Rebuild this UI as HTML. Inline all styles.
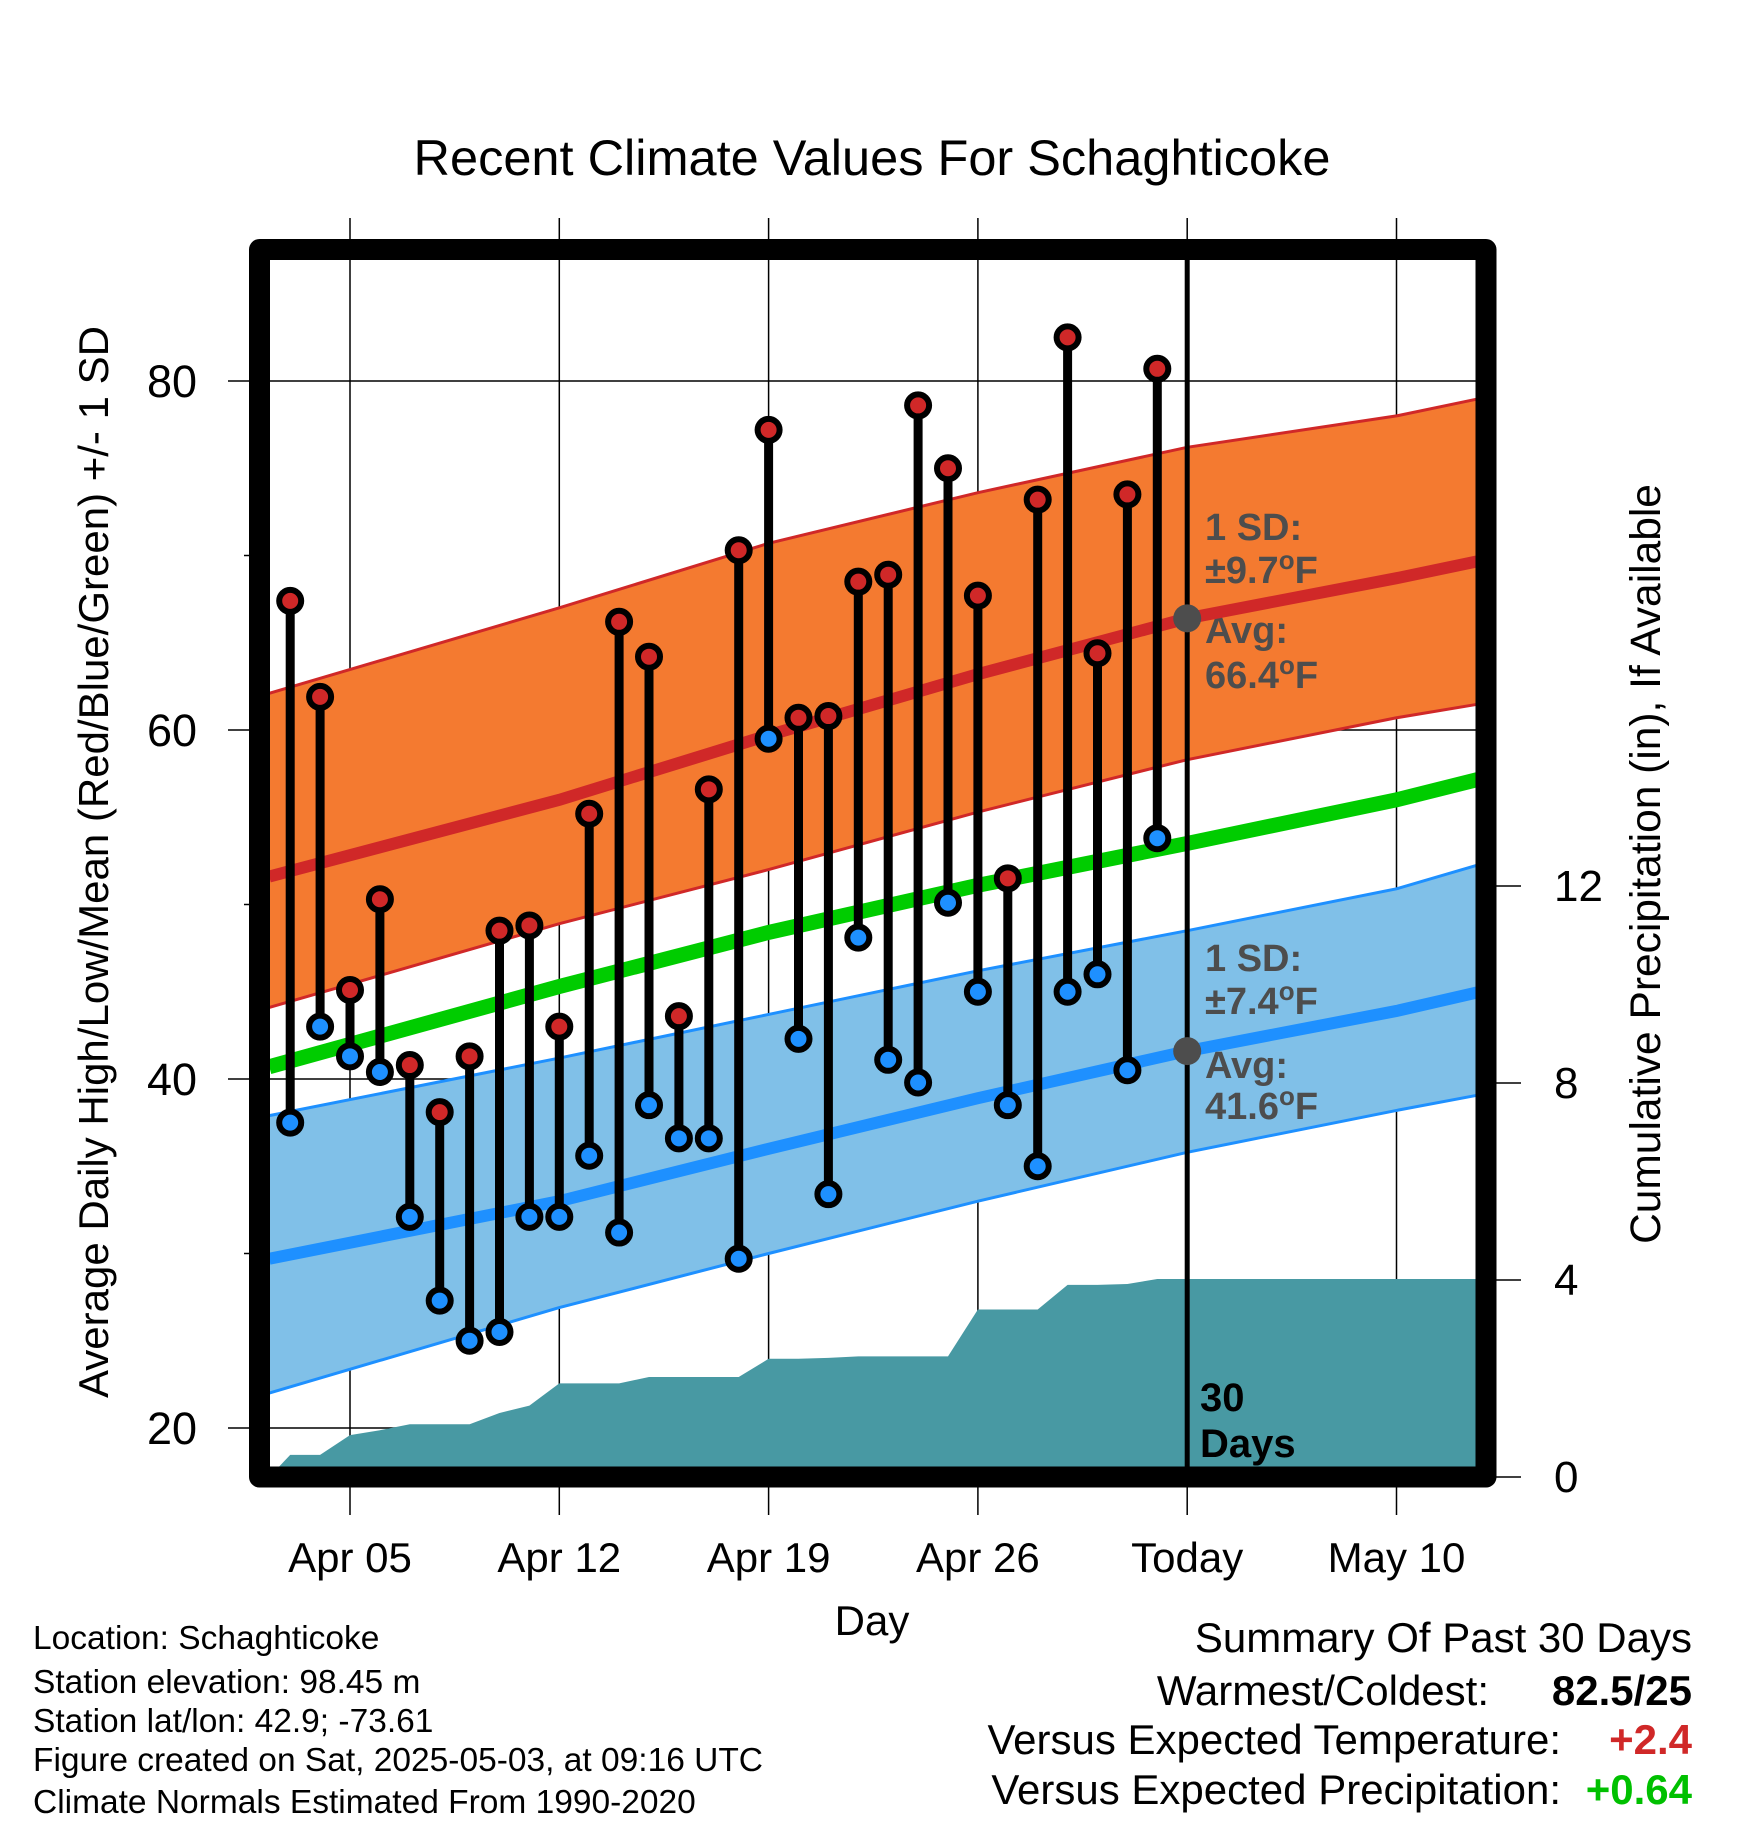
<!DOCTYPE html>
<html><head><meta charset="utf-8"><style>
html,body{margin:0;padding:0;background:#fff;}
svg{display:block;font-family:"Liberation Sans",sans-serif;}
</style></head><body>
<svg id="chart" width="1748" height="1828" viewBox="0 0 1748 1828" xmlns="http://www.w3.org/2000/svg">
<defs><clipPath id="plotclip"><rect x="260" y="250" width="1226" height="1227"/></clipPath></defs>
<rect width="1748" height="1828" fill="#fff"/>
<text x="872" y="175" font-size="50.5" text-anchor="middle">Recent Climate Values For Schaghticoke</text>
<g id="grid"></g>
<g id="plot" clip-path="url(#plotclip)"></g>
<g id="marks"></g>
<rect x="259.5" y="249.5" width="1226.5" height="1227.5" fill="none" stroke="#000" stroke-width="21" stroke-linejoin="round"/>
<g id="axes"></g>
<text transform="translate(108,862) rotate(-90)" font-size="42" text-anchor="middle">Average Daily High/Low/Mean (Red/Blue/Green) +/- 1 SD</text>
<text transform="translate(1660,864) rotate(-90)" font-size="42.5" text-anchor="middle">Cumulative Precipitation (in), If Available</text>
<text x="872" y="1635" font-size="42" text-anchor="middle">Day</text>
<g font-size="33.5">
<text x="33" y="1649">Location: Schaghticoke</text>
<text x="33" y="1693">Station elevation: 98.45 m</text>
<text x="33" y="1732">Station lat/lon: 42.9; -73.61</text>
<text x="33" y="1771">Figure created on Sat, 2025-05-03, at 09:16 UTC</text>
<text x="33" y="1813">Climate Normals Estimated From 1990-2020</text>
</g>
<g font-size="42">
<text x="1692" y="1652" text-anchor="end">Summary Of Past 30 Days</text>
<text x="1489" y="1705" text-anchor="end">Warmest/Coldest:</text>
<text x="1692" y="1705" text-anchor="end" font-weight="bold">82.5/25</text>
<text x="1561" y="1754" text-anchor="end">Versus Expected Temperature:</text>
<text x="1692" y="1754" text-anchor="end" font-weight="bold" fill="#d02828">+2.4</text>
<text x="1561" y="1804" text-anchor="end">Versus Expected Precipitation:</text>
<text x="1692" y="1804" text-anchor="end" font-weight="bold" fill="#00c000">+0.64</text>
</g>
</svg>
<script>
// ---- data ----
const highs = [67.4,61.9,45.1,50.3,40.8,38.1,41.3,48.5,48.8,43.0,55.2,66.2,64.2,43.6,56.6,70.3,77.2,60.7,60.8,68.5,68.9,78.6,75.0,67.7,51.5,73.2,82.5,64.4,73.5,80.7];
const lows  = [37.5,43.0,41.3,40.4,32.1,27.3,25.0,25.5,32.1,32.1,35.6,31.2,38.5,36.6,36.6,29.7,59.5,42.3,33.4,48.1,41.1,39.8,50.1,45.0,38.5,35.0,45.0,46.0,40.5,53.8];
const precip = [0.45,0.45,0.85,0.95,1.07,1.07,1.07,1.3,1.45,1.9,1.9,1.9,2.03,2.03,2.03,2.03,2.4,2.4,2.42,2.45,2.45,2.45,2.45,3.4,3.4,3.4,3.9,3.9,3.92,4.02];
const normDays = [-2.7,7,14,21,28,35,37.8];
const avgHigh = [51.6,56.0,59.7,63.2,66.4,68.7,69.7];
const highUpper = [62.1,67.0,70.7,73.6,76.2,78.0,79.0];
const highLower = [44.1,48.9,52.0,55.3,58.3,60.7,61.5];
const avgLow = [29.7,33.0,36.0,38.9,41.6,43.9,45.0];
const lowUpper = [37.9,41.2,43.7,46.2,48.5,50.9,52.3];
const lowLower = [22.0,26.9,30.0,33.0,35.8,38.2,39.1];
const avgMean = [40.7,45.3,48.4,51.1,53.5,56.0,57.2];
const xTickDays = [0,7,14,21,28,35];
const xTickLabels = ["Apr 05","Apr 12","Apr 19","Apr 26","Today","May 10"];
const yTicks = [20,40,60,80];
const yMinor = [30,50,70];
const y2Ticks = [0,4,8,12];
const firstDay = -2; // Apr 03 relative to Apr 05

// ---- scales ----
const xS = d => 350 + d*29.9;
const yS = v => 381 + (80-v)*17.45;
const pS = p => 1477 - p*49.25;
const NS='http://www.w3.org/2000/svg';
function mk(tag, parent, attrs){const e=document.createElementNS(NS,tag);for(const k in attrs)e.setAttribute(k,attrs[k]);parent.appendChild(e);return e;}
const grid=document.getElementById('grid'), plot=document.getElementById('plot'), marks=document.getElementById('marks'), axes=document.getElementById('axes');

// grid
yTicks.forEach(v=>{const l=mk('line',grid,{x1:228,x2:1486,y1:yS(v),y2:yS(v),stroke:'#000','stroke-width':1.5});

});
xTickDays.forEach((d,i)=>{const l=mk('line',grid,{x1:xS(d),x2:xS(d),y1:218,y2:1515,stroke:'#000','stroke-width':1.5});

});

// bands
function pts(arr){return normDays.map((d,i)=>xS(d)+','+yS(arr[i]));}
function band(up,lo,fill,edge,name){
 const p=mk('polygon',plot,{points:pts(up).concat(pts(lo).reverse()).join(' '),fill:fill});
 
 
 [up,lo].forEach(a=>{const e=mk('polyline',plot,{points:pts(a).join(' '),fill:'none',stroke:edge,'stroke-width':3});
 
 });
}
band(highUpper,highLower,'#f47a30','#d02828','high-sd-band');
band(lowUpper,lowLower,'#80c0e8','#1e90ff','low-sd-band');

// precip
let pp=[xS(-2.7)+','+pS(0)];
precip.forEach((p,i)=>pp.push(xS(firstDay+i)+','+pS(p)));
pp.push(xS(37.8)+','+pS(precip[precip.length-1]));
pp.push(xS(37.8)+','+pS(0));
const pa=mk('polygon',plot,{points:pp.join(' '),fill:'#4899a3'});



// annotations
const ann=[['1 SD:','',540],['\u00b19.7','F',583],['Avg:','',643],['66.4','F',688],['1 SD:','',971],['\u00b17.4','F',1014],['Avg:','',1078],['41.6','F',1119]];
ann.forEach(a=>{const t=mk('text',plot,{x:1205,y:a[2],'font-size':38,'font-weight':'bold',fill:'#4d4d4d'});


t.appendChild(document.createTextNode(a[0]));
if(a[1]){const s=mk('tspan',t,{dy:-14,'font-size':26});s.textContent='o';const f=mk('tspan',t,{dy:14});f.textContent='F';}
});

// normal lines
[[avgHigh,'#d02828',12,'avg-high-line'],[avgLow,'#1e90ff',12,'avg-low-line'],[avgMean,'#00cc00',15,'avg-mean-line']].forEach(s=>{
 const l=mk('polyline',plot,{points:pts(s[0]).join(' '),fill:'none',stroke:s[1],'stroke-width':s[2]});
 
 });

// today line
const tl=mk('line',plot,{x1:xS(28),x2:xS(28),y1:250,y2:1477,stroke:'#000','stroke-width':5});


[avgHigh[4],avgLow[4]].forEach(v=>{const c=mk('circle',plot,{cx:xS(28),cy:yS(v),r:14,fill:'#4d4d4d'});

});
const t30=mk('text',plot,{x:1200,y:1411,'font-size':40,'font-weight':'bold'});t30.textContent='30';


const tdy=mk('text',plot,{x:1200,y:1457,'font-size':40,'font-weight':'bold'});tdy.textContent='Days';



// daily stems and dots
highs.forEach((h,i)=>{
 const x=xS(firstDay+i);
 const s=mk('line',marks,{x1:x,x2:x,y1:yS(h),y2:yS(lows[i]),stroke:'#000','stroke-width':9});
 
 
 const c1=mk('circle',marks,{cx:x,cy:yS(h),r:11,fill:'#d02828',stroke:'#000','stroke-width':6});
 
 
 const c2=mk('circle',marks,{cx:x,cy:yS(lows[i]),r:11,fill:'#1e90ff',stroke:'#000','stroke-width':6});
 
 
});

// axes ticks & labels
yTicks.forEach(v=>{const t=mk('text',axes,{x:197,y:yS(v)+16,'font-size':45,'text-anchor':'end'});t.textContent=v;

});
yMinor.forEach(v=>{const l=mk('line',axes,{x1:244,x2:250,y1:yS(v),y2:yS(v),stroke:'#000','stroke-width':1.5});

});
y2Ticks.forEach(p=>{const l=mk('line',axes,{x1:1486,x2:1521,y1:pS(p),y2:pS(p),stroke:'#000','stroke-width':1.5});


const t=mk('text',axes,{x:1554,y:pS(p)+15,'font-size':44});t.textContent=p;

});
xTickDays.forEach((d,i)=>{const t=mk('text',axes,{x:xS(d),y:1572,'font-size':42,'text-anchor':'middle'});t.textContent=xTickLabels[i];

});
</script>
</body></html>
